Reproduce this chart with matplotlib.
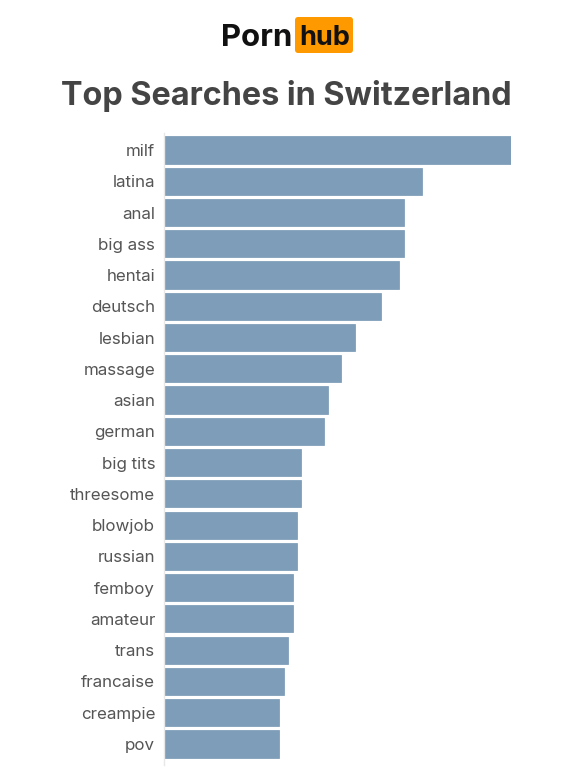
import matplotlib
matplotlib.use("Agg")
import matplotlib.pyplot as plt
from matplotlib.patches import FancyBboxPatch

plt.rcParams["font.family"] = ["Inter", "DejaVu Sans"]

W, H = 582, 775
PITCH = 31.26

terms = [
    "milf", "latina", "anal", "big ass", "hentai", "deutsch", "lesbian",
    "massage", "asian", "german", "big tits", "threesome", "blowjob",
    "russian", "femboy", "amateur", "trans", "francaise", "creampie", "pov",
]
searches = [78, 58, 54, 54, 53, 49, 43, 40, 37, 36, 31, 31, 30, 30, 29, 29, 28, 27, 26, 26]

fig = plt.figure(figsize=(W / 100, H / 100), dpi=100)

# axes box in pixels, top of first bar row at y=133
top, bottom, left, right = 133, 765, 163.5, 510.5
ax = fig.add_axes([left / W, 1 - bottom / H, (right - left) / W, (bottom - top) / H])
ax.barh(range(len(terms)), searches, height=0.87, color="#7d9db8", edgecolor="#7597b3", linewidth=0.5)
ax.set_xlim(0, 78)
ax.set_ylim((bottom - 150) / PITCH, -(150 - top) / PITCH)
ax.set_yticks(range(len(terms)), terms)
ax.tick_params(axis="y", length=0, pad=6, labelsize=12.2, labelcolor="#555555")
ax.xaxis.set_visible(False)
ax.spines[["top", "right", "bottom"]].set_visible(False)
ax.spines["left"].set_color("#e8e8e8")
ax.spines["left"].set_linewidth(1.0)

fig.text(286 / W, 1 - 96.5 / H, "Top Searches in Switzerland", ha="center", va="center",
         fontsize=23.3, fontweight="bold", color="#444444")

# logo
logo = fig.add_axes([0, 0, 1, 1])
logo.set_xlim(0, W)
logo.set_ylim(H, 0)
logo.axis("off")
logo.add_patch(FancyBboxPatch((295, 17), 58, 36, boxstyle="round,pad=0,rounding_size=3",
                              facecolor="#ff9900", edgecolor="none"))
logo.text(292, 38, "Porn", ha="right", va="center", fontsize=22.4, fontweight="bold", color="#111111")
logo.text(324.5, 38, "hub", ha="center", va="center", fontsize=19.5, fontweight="bold", color="#111111")

fig.savefig("out.png", dpi=100)
